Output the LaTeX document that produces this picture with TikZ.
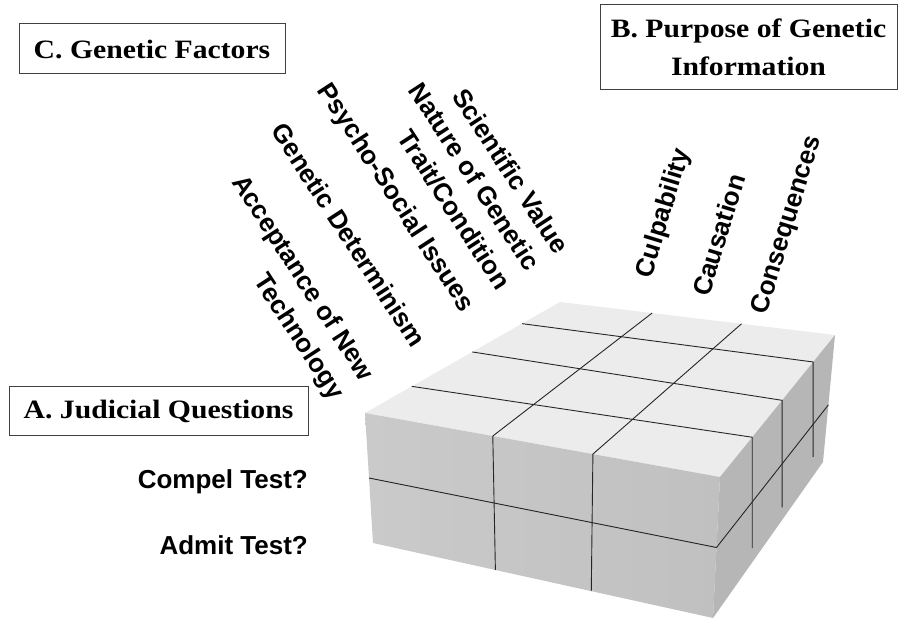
\documentclass[tikz,border=0pt]{standalone}
\usepackage{fontspec}
\setmainfont{Liberation Serif}
\newfontfamily\labelfont{Liberation Sans}
\newfontfamily\titlefont[FakeStretch=1.12]{Liberation Serif}
\usetikzlibrary{calc}

\definecolor{topface}{RGB}{236,236,236}
\definecolor{frontL}{RGB}{202,202,202}
\definecolor{frontR}{RGB}{192,192,192}
\definecolor{sideface}{RGB}{182,182,182}

\tikzset{
  titlebox/.style={draw=black!75, line width=1pt, inner sep=0pt, align=center,
    font=\titlefont\bfseries\fontsize{26.5}{38}\selectfont},
  factor/.style={inner sep=0pt, align=right, rotate=-57,
    font=\labelfont\bfseries\fontsize{26}{35}\selectfont},
  purpose/.style={inner sep=0pt, rotate=73,
    font=\labelfont\bfseries\fontsize{26}{32}\selectfont},
  question/.style={inner sep=0pt, anchor=east,
    font=\labelfont\bfseries\fontsize{26}{32}\selectfont},
  gridline/.style={black!85, line width=0.9pt},
}

\begin{document}
\begin{tikzpicture}[x=1pt,y=1pt]
\useasboundingbox (0,0) rectangle (898,-620);

% Box corners (top face, then bottom)
\coordinate (A) at (365,-413);
\coordinate (B) at (560,-302);
\coordinate (C) at (835,-335);
\coordinate (D) at (720,-477);
\coordinate (Ab) at (373,-543);
\coordinate (Cb) at (823,-462);
\coordinate (Db) at (713,-618);

% Faces
\fill[topface] (A) -- (B) -- (C) -- (D) -- cycle;
\shade[left color=frontL, right color=frontR] (A) -- (D) -- (Db) -- (Ab) -- cycle;
\fill[sideface] (D) -- (C) -- (Cb) -- (Db) -- cycle;

% Purpose columns: top face and front face
\foreach \s/\t in {0.335/0.36, 0.66/0.642}
  \draw[gridline] ($(B)!\s!(C)$) -- ($(A)!\t!(D)$) -- ($(Ab)!\t!(Db)$);

% Factor rows: top face and right face
\foreach \s/\t/\h in {0.24/0.28/111, 0.55/0.54/107, 0.805/0.81/95}
  \draw[gridline] ($(A)!\s!(B)$) -- ($(D)!\t!(C)$) -- ++(0,-\h);

% Question split
\draw[gridline] ($(A)!.5!(Ab)$) -- ($(D)!.5!(Db)$) -- ($(C)!.55!(Cb)$);

% Titles
\node[titlebox, minimum width=266pt, minimum height=50pt] (genfactors) at (152,-49) {C. Genetic Factors};
\node[titlebox, minimum width=297pt, minimum height=85pt] (purposebox) at (748.5,-47.5) {B. Purpose of Genetic\\Information};
\node[titlebox, minimum width=299pt, minimum height=49pt] (judicial) at (158.5,-411.5) {A. Judicial Questions};

% Judicial questions
\node[question] (compel) at (308,-482) {Compel Test?};
\node[question] (admit) at (308,-545) {Admit Test?};

% Genetic factors
\node[factor] (scivalue) at (511,-171) {Scientific Value};
\node[factor] (nature) at (460,-186) {Nature of Genetic\\Trait/Condition};
\node[factor] (psycho) at (395,-198) {Psycho-Social Issues};
\node[factor] (determinism) at (349,-235) {Genetic Determinism};
\node[factor] (acceptance) at (287,-288) {Acceptance of New\\Technology};

% Purposes
\node[purpose] (culpability) at (664,-213.5) {Culpability};
\node[purpose] (causation) at (718.5,-235) {Causation};
\node[purpose] (consequences) at (787.5,-225.5) {Consequences};

\end{tikzpicture}
\end{document}
